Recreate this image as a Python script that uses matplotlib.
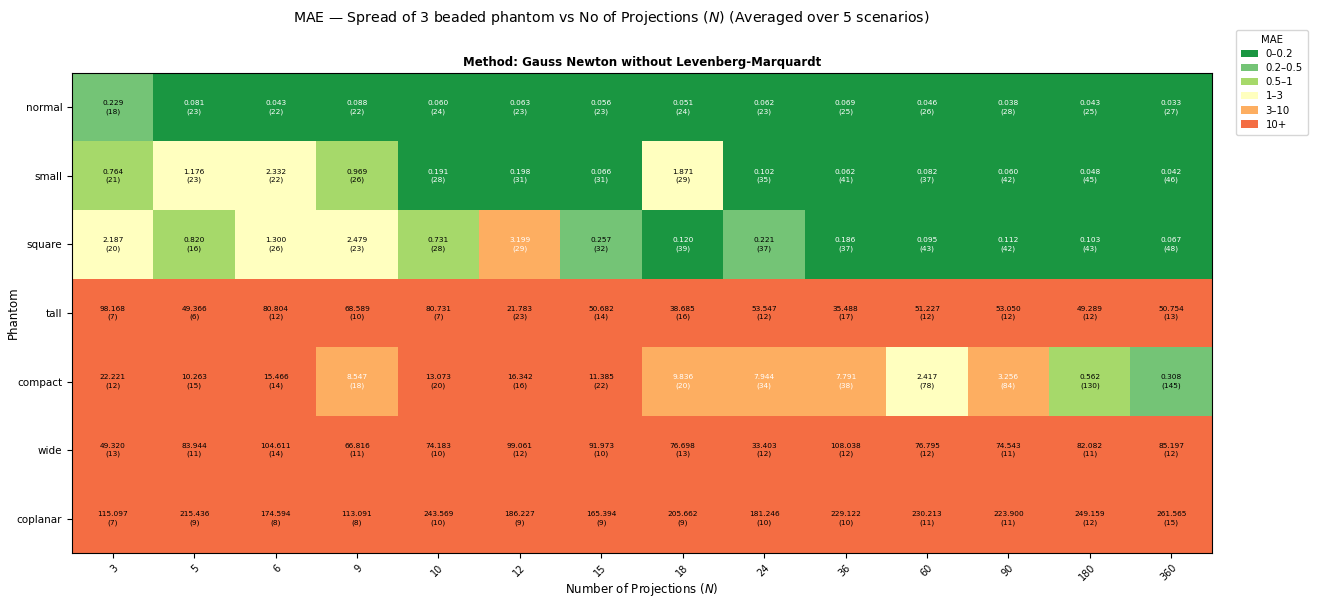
import numpy as np
import matplotlib
matplotlib.use("Agg")
import matplotlib.pyplot as plt
from matplotlib.colors import ListedColormap, BoundaryNorm
from matplotlib.patches import Patch

phantoms = ["normal", "small", "square", "tall", "compact", "wide", "coplanar"]
projections = ["3", "5", "6", "9", "10", "12", "15", "18", "24", "36", "60", "90", "180", "360"]

mae_normal = [0.229, 0.081, 0.043, 0.088, 0.060, 0.063, 0.056, 0.051, 0.062, 0.069, 0.046, 0.038, 0.043, 0.033]
mae_small = [0.764, 1.176, 2.332, 0.969, 0.191, 0.198, 0.066, 1.871, 0.102, 0.062, 0.082, 0.060, 0.048, 0.042]
mae_square = [2.187, 0.820, 1.300, 2.479, 0.731, 3.199, 0.257, 0.120, 0.221, 0.186, 0.095, 0.112, 0.103, 0.067]
mae_tall = [98.168, 49.366, 80.804, 68.589, 80.731, 21.783, 50.682, 38.685, 53.547, 35.488, 51.227, 53.050, 49.289, 50.754]
mae_compact = [22.221, 10.263, 15.466, 8.547, 13.073, 16.342, 11.385, 9.836, 7.944, 7.791, 2.417, 3.256, 0.562, 0.308]
mae_wide = [49.320, 83.944, 104.611, 66.816, 74.183, 99.061, 91.973, 76.698, 33.403, 108.038, 76.795, 74.543, 82.082, 85.197]
mae_coplanar = [115.097, 215.436, 174.594, 113.091, 243.569, 186.227, 165.394, 205.662, 181.246, 229.122, 230.213, 223.900, 249.159, 261.565]

n_normal = [18, 23, 22, 22, 24, 23, 23, 24, 23, 25, 26, 28, 25, 27]
n_small = [21, 23, 22, 26, 28, 31, 31, 29, 35, 41, 37, 42, 45, 46]
n_square = [20, 16, 26, 23, 28, 29, 32, 39, 37, 37, 43, 42, 43, 48]
n_tall = [7, 6, 12, 10, 7, 23, 14, 16, 12, 17, 12, 12, 12, 13]
n_compact = [12, 15, 14, 18, 20, 16, 22, 20, 34, 38, 78, 84, 130, 145]
n_wide = [13, 11, 14, 11, 10, 12, 10, 13, 12, 12, 12, 11, 11, 12]
n_coplanar = [7, 9, 8, 8, 10, 9, 9, 9, 10, 10, 11, 11, 12, 15]

bin_edges = [0, 0.2, 0.5, 1, 3, 10, 1e9]
bin_labels = ["0\u20130.2", "0.2\u20130.5", "0.5\u20131", "1\u20133", "3\u201310", "10+"]
bin_colors = ["#1a9641", "#74c476", "#a6d96a", "#ffffbf", "#fdae61", "#f46d43"]
white_text_bins = {0, 4}

mae = np.array([mae_normal, mae_small, mae_square, mae_tall, mae_compact, mae_wide, mae_coplanar])
counts = np.array([n_normal, n_small, n_square, n_tall, n_compact, n_wide, n_coplanar])

cmap = ListedColormap(bin_colors)
norm = BoundaryNorm(bin_edges, cmap.N)

fig = plt.figure(figsize=(13.17, 5.98), dpi=100)
ax = fig.add_axes([72 / 1317, 1 - 553 / 598, (1212 - 72) / 1317, (553 - 73) / 598])

ax.imshow(mae, cmap=cmap, norm=norm, aspect="auto", interpolation="nearest")

bins = np.digitize(mae, bin_edges[1:-1], right=False)
for i in range(mae.shape[0]):
    for j in range(mae.shape[1]):
        color = "white" if bins[i, j] in white_text_bins else "black"
        ax.text(j, i, f"{mae[i, j]:.3f}\n({counts[i, j]})", ha="center", va="center",
                fontsize=5.3, color=color, linespacing=1.4)

ax.set_xticks(range(len(projections)))
ax.set_xticklabels(projections, rotation=45, ha="right", rotation_mode="anchor", fontsize=7)
ax.set_yticks(range(len(phantoms)))
ax.set_yticklabels(phantoms, fontsize=7.5)
ax.set_xlabel("Number of Projections ($N$)", fontsize=8.5)
ax.set_ylabel("Phantom", fontsize=8.5)
ax.xaxis.set_label_coords(0.5, -0.059)
ax.yaxis.set_label_coords(-0.046, 0.5)
ax.set_title("Method: Gauss Newton without Levenberg-Marquardt", fontsize=8.5, fontweight="bold", pad=5)

fig.suptitle("MAE \u2014 Spread of 3 beaded phantom vs No of Projections ($N$) (Averaged over 5 scenarios)",
             fontsize=10.2, x=0.464, y=0.985)

handles = [Patch(facecolor=c, label=l) for c, l in zip(bin_colors, bin_labels)]
fig.legend(handles=handles, title="MAE", loc="upper right", bbox_to_anchor=(0.997, 0.958),
           fontsize=7.3, title_fontsize=7.3, handlelength=1.6, handleheight=0.7,
           labelspacing=0.4, borderpad=0.5)

fig.savefig("out.png", dpi=100)
